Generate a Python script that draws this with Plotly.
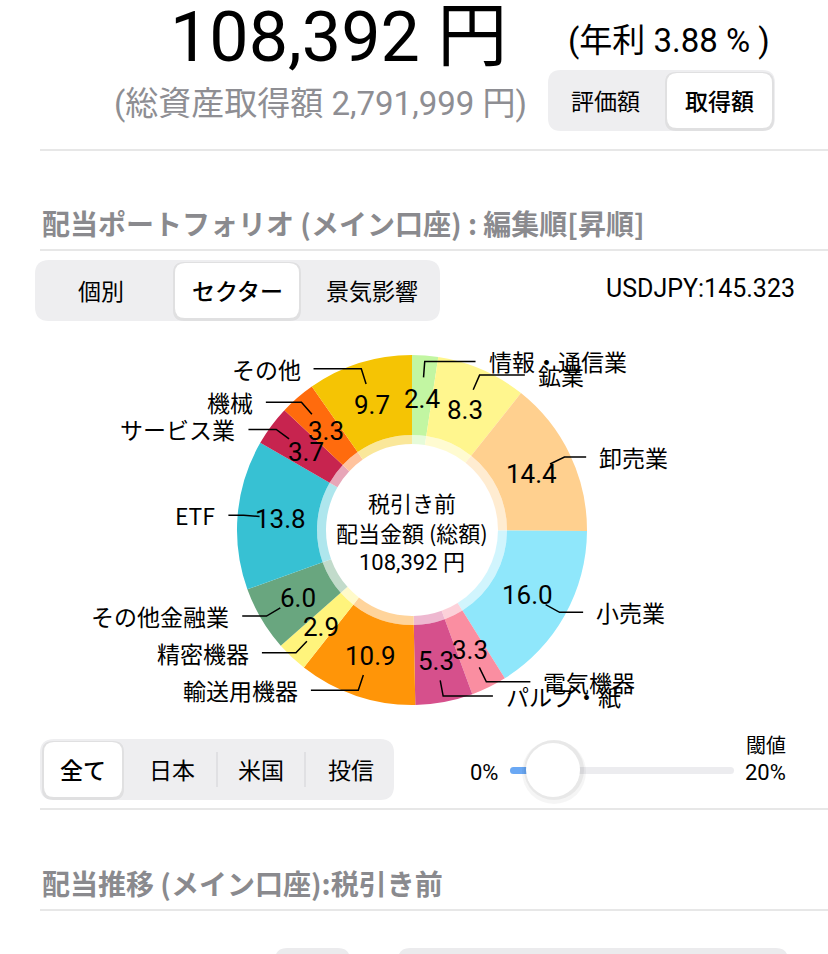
import math
import plotly.graph_objects as go

# ---------------- data ----------------
sectors = ["情報・通信業", "鉱業", "卸売業", "小売業", "電気機器", "パルプ・紙",
           "輸送用機器", "精密機器", "その他金融業", "ETF", "サービス業", "機械", "その他"]
shares = [2.4, 8.3, 14.4, 16.0, 3.3, 5.3, 10.9, 2.9, 6.0, 13.8, 3.7, 3.3, 9.7]
colors = ["#c2f6a2", "#fff68e", "#ffd08f", "#8fe7fb", "#fa8ea1", "#d6508c",
          "#ff9508", "#fff47c", "#69a67f", "#37c1d3", "#c7244f", "#ff6b0d", "#f5c404"]

total_dividend = "108,392 円"
annual_rate = "(年利 3.88 % )"
total_cost = "(総資産取得額 2,791,999 円)"
usdjpy = "USDJPY:145.323"
center_lines = ["税引き前", "配当金額 (総額)", "108,392 円"]
seg_top = ["評価額", "取得額"]
seg_mid = ["個別", "セクター", "景気影響"]
seg_bot = ["全て", "日本", "米国", "投信"]
title1 = "配当ポートフォリオ (メイン口座) : 編集順[昇順]"
title2 = "配当推移 (メイン口座):税引き前"

# ---------------- geometry ----------------
W, H = 828, 954
CX, CY = 412, 530
R_OUT, R_IN = 175, 95
R_HALO = 86
FONT = "Noto Sans CJK JP, Noto Sans, sans-serif"
LATIN = "Roboto, Noto Sans CJK JP, sans-serif"

fig = go.Figure()

def domain_for(r):
    return dict(x=[(CX - r) / W, (CX + r) / W], y=[1 - (CY + r) / H, 1 - (CY - r) / H])

# translucent inner halo ring
fig.add_trace(go.Pie(
    values=shares, labels=sectors, sort=False, direction="clockwise", rotation=0,
    hole=R_HALO / R_IN, domain=domain_for(R_IN), textinfo="none", hoverinfo="skip",
    marker=dict(colors=colors, line=dict(width=0)), opacity=0.4, showlegend=False))
# main donut
fig.add_trace(go.Pie(
    values=shares, labels=sectors, sort=False, direction="clockwise", rotation=0,
    hole=R_IN / R_OUT, domain=domain_for(R_OUT), textinfo="none",
    marker=dict(colors=colors, line=dict(width=0)), showlegend=False))

shapes = []
annotations = []

def text(x, y, s, size=22, color="#000", anchor="center", weight=None, family=FONT):
    f = dict(family=family, size=size, color=color)
    if weight:
        f["weight"] = weight
    annotations.append(dict(x=x, y=y, xref="x", yref="y", text=s, showarrow=False,
                            xanchor=anchor, yanchor="middle", font=f))

def rrect(x0, y0, x1, y1, r, fill):
    p = (f"M {x0+r},{y0} L {x1-r},{y0} Q {x1},{y0} {x1},{y0+r} L {x1},{y1-r} "
         f"Q {x1},{y1} {x1-r},{y1} L {x0+r},{y1} Q {x0},{y1} {x0},{y1-r} "
         f"L {x0},{y0+r} Q {x0},{y0} {x0+r},{y0} Z")
    shapes.append(dict(type="path", path=p, xref="x", yref="y", fillcolor=fill,
                       line=dict(width=0), layer="below"))

def hline(y, x0=40, x1=828, color="#cfcfcf"):
    shapes.append(dict(type="line", x0=x0, x1=x1, y0=y, y1=y, xref="x", yref="y",
                       line=dict(color=color, width=1), layer="below"))

# ---------------- header ----------------
text(338, 37, total_dividend, size=70, family=LATIN)
text(669, 40, annual_rate, size=33, family=LATIN)
text(320, 103, total_cost, size=33, color="#8e8e93", family=LATIN)

rrect(548, 70, 775, 131, 13, "#eeeef0")
rrect(665, 72, 774, 131, 11, "rgba(0,0,0,0.06)")
rrect(667, 73, 772, 128, 10, "#ffffff")
text(605, 100, seg_top[0], size=23)
text(719, 100, seg_top[1], size=23, weight=500)
hline(150)

# ---------------- section 1 ----------------
text(40, 223, title1, size=28, color="#8a8a8e", anchor="left", weight=700)
hline(250)
rrect(35, 260, 440, 321, 14, "#eeeef0")
rrect(173, 262, 301, 321, 11, "rgba(0,0,0,0.06)")
rrect(175, 263, 299, 318, 10, "#ffffff")
text(101, 290, seg_mid[0], size=23)
text(237, 290, seg_mid[1], size=23, weight=500)
text(372, 290, seg_mid[2], size=23)
text(797, 288, usdjpy, size=25, anchor="right", family=LATIN)

# ---------------- donut labels ----------------
cum = 0.0
tot = sum(shares)
R_VAL, R_START, R_ELBOW = 132, 153, 169
for name, v in zip(sectors, shares):
    mid = (cum + v / 2) / tot * 2 * math.pi
    cum += v
    sx, sy = math.sin(mid), -math.cos(mid)
    text(CX + R_VAL * sx, CY + R_VAL * sy + 1, f"{v:.1f}", size=26, family=LATIN)
    x1, y1 = CX + R_START * sx, CY + R_START * sy
    x2, y2 = CX + R_ELBOW * sx, CY + R_ELBOW * sy
    seg = 15 + 36 * math.cos(mid) ** 2
    right = sx >= 0
    x3 = x2 + seg if right else x2 - seg
    shapes.append(dict(type="path", path=f"M {x1},{y1} L {x2},{y2} L {x3},{y2}",
                       xref="x", yref="y", line=dict(color="#000", width=1.5)))
    text(x3 + 11 if right else x3 - 11, y2, name, size=23,
         anchor="left" if right else "right")

for i, s in enumerate(center_lines):
    text(CX, 502 + i * 30, s, size=22, family=LATIN if i == 2 else FONT)

# ---------------- bottom controls ----------------
rrect(40, 739, 394, 800, 14, "#eeeef0")
rrect(42, 741, 124, 800, 11, "rgba(0,0,0,0.06)")
rrect(44, 742, 122, 797, 10, "#ffffff")
for xs in (217, 305):
    shapes.append(dict(type="line", x0=xs, x1=xs, y0=752, y1=787, xref="x", yref="y",
                       line=dict(color="#d2d2d6", width=1), layer="below"))
for x, s in zip((83, 172, 261, 351), seg_bot):
    text(x, 769, s, size=23, weight=500 if s == seg_bot[0] else None)

# slider
rrect(510, 767, 734, 774, 3.5, "#ececef")
rrect(510, 767, 540, 774, 3.5, "#6aa8f4")
shapes.append(dict(type="circle", x0=522, x1=586, y0=740, y1=804, xref="x", yref="y",
                   fillcolor="rgba(0,0,0,0.04)", line=dict(width=0)))
shapes.append(dict(type="circle", x0=524, x1=584, y0=740, y1=800, xref="x", yref="y",
                   fillcolor="rgba(0,0,0,0.05)", line=dict(width=0)))
shapes.append(dict(type="circle", x0=526, x1=580, y0=743, y1=797, xref="x", yref="y",
                   fillcolor="#ffffff", line=dict(width=0)))
text(500, 772, "0%", size=22, anchor="right", family=LATIN)
text(766, 744, "閾値", size=20)
text(765, 772, "20%", size=22, family=LATIN)
hline(809)

text(40, 883, title2, size=28, color="#8a8a8e", anchor="left", weight=700)
hline(910)
rrect(275, 948, 350, 975, 12, "#ebebed")
rrect(398, 948, 788, 975, 12, "#ebebed")

fig.update_layout(
    width=W, height=H, margin=dict(l=0, r=0, t=0, b=0),
    paper_bgcolor="#ffffff", plot_bgcolor="#ffffff",
    xaxis=dict(range=[0, W], visible=False, fixedrange=True, domain=[0, 1]),
    yaxis=dict(range=[H, 0], visible=False, fixedrange=True, domain=[0, 1]),
    shapes=shapes, annotations=annotations, showlegend=False,
)
fig.write_html("out.html")
